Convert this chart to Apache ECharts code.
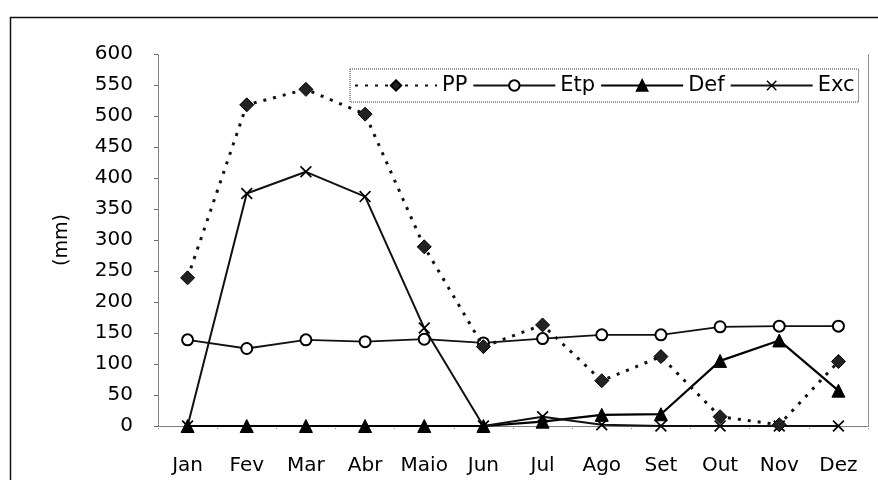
<!DOCTYPE html>
<html>
<head>
<meta charset="utf-8">
<script src="https://cdn.jsdelivr.net/npm/echarts@6/dist/echarts.min.js"></script>
<style>html,body{margin:0;padding:0;background:#fff;}#c{width:878px;height:480px;}</style>
</head>
<body>
<div id="c"></div>
<script>
const months = ['Jan','Fev','Mar','Abr','Maio','Jun','Jul','Ago','Set','Out','Nov','Dez'];
const yTicks = [0,50,100,150,200,250,300,350,400,450,500,550,600];
const PP  = [239, 518, 543, 503, 289, 128, 163, 73, 112, 15, 2, 104];
const Etp = [139, 125, 139, 136, 140, 134, 141, 147, 147, 160, 161, 161];
const Def = [0, 0, 0, 0, 0, 0, 7, 18, 19, 105, 138, 57];
const Exc = [0, 375, 410, 370, 158, 0, 15, 2, 0, 0, 0, 0];

const xSym = 'path://M0,1 L1,0 L5,4 L9,0 L10,1 L6,5 L10,9 L9,10 L5,6 L1,10 L0,9 L4,5 Z';
const font = 'DejaVu Sans, sans-serif';

const chart = echarts.init(document.getElementById('c'), null, {renderer:'canvas'});
chart.setOption({
  backgroundColor: '#fff',
  animation: false,
  graphic: [{
    type: 'rect', left: 8, top: 15, shape: {width: 900, height: 500},
    style: {fill: 'none', stroke: '#111', lineWidth: 1.5}, silent: true
  }],
  grid: {left: 158, right: 10, top: 54, bottom: 54},
  legend: {
    left: 350, top: 69,
    padding: [6, 4],
    itemWidth: 82, itemHeight: 13, itemGap: 5,
    borderColor: '#333', borderWidth: 1, borderType: 'dotted',
    textStyle: {fontFamily: font, fontSize: 21, color: '#000', padding: [0,0,0,0]},
    data: ['PP','Etp','Def','Exc']
  },
  xAxis: [{
    type: 'category', data: months, boundaryGap: true,
    axisLine: {lineStyle: {color: '#666', type: 'dotted', width: 1}},
    axisTick: {show: true, length: 4, lineStyle: {color: '#888', type: 'dotted'}},
    axisLabel: {fontFamily: font, fontSize: 20, color: '#000', margin: 30, interval: 0, hideOverlap: false}
  }, {
    type: 'category', data: months, position: 'top',
    axisLine: {show: true, lineStyle: {color: '#777', type: 'dotted', width: 1}},
    axisTick: {show: false}, axisLabel: {show: false}
  }],
  yAxis: [{
    type: 'value', min: yTicks[0], max: yTicks[yTicks.length-1], interval: yTicks[1]-yTicks[0],
    name: '(mm)', nameLocation: 'middle', nameGap: 86, nameRotate: 90,
    nameTextStyle: {fontFamily: font, fontSize: 19, color: '#000'},
    axisLine: {show: true, lineStyle: {color: '#666', type: 'dotted', width: 1}},
    axisTick: {show: true, length: 4, lineStyle: {color: '#666'}},
    splitLine: {show: false},
    axisLabel: {fontFamily: font, fontSize: 20, color: '#000', margin: 25}
  }, {
    type: 'value', min: yTicks[0], max: yTicks[yTicks.length-1], position: 'right',
    axisLine: {show: true, lineStyle: {color: '#777', type: 'dotted', width: 1}},
    axisTick: {show: false}, axisLabel: {show: false}, splitLine: {show: false}
  }],
  series: [{
    name: 'PP', type: 'line', data: PP, z: 5,
    symbol: 'diamond', symbolSize: 14,
    lineStyle: {color: '#111', width: 3, type: [3, 7]},
    itemStyle: {color: '#222', borderColor: '#000', borderWidth: 1}
  }, {
    name: 'Etp', type: 'line', data: Etp, z: 4,
    symbol: 'circle', symbolSize: 11,
    lineStyle: {color: '#111', width: 1.8},
    itemStyle: {color: '#fff', borderColor: '#000', borderWidth: 2}
  }, {
    name: 'Def', type: 'line', data: Def, z: 3,
    symbol: 'triangle', symbolSize: 13,
    lineStyle: {color: '#000', width: 2.2},
    itemStyle: {color: '#000', borderColor: '#000', borderWidth: 1}
  }, {
    name: 'Exc', type: 'line', data: Exc, z: 3,
    symbol: xSym, symbolSize: 12,
    lineStyle: {color: '#111', width: 2},
    itemStyle: {color: '#000'}
  }]
});
</script>
</body>
</html>
